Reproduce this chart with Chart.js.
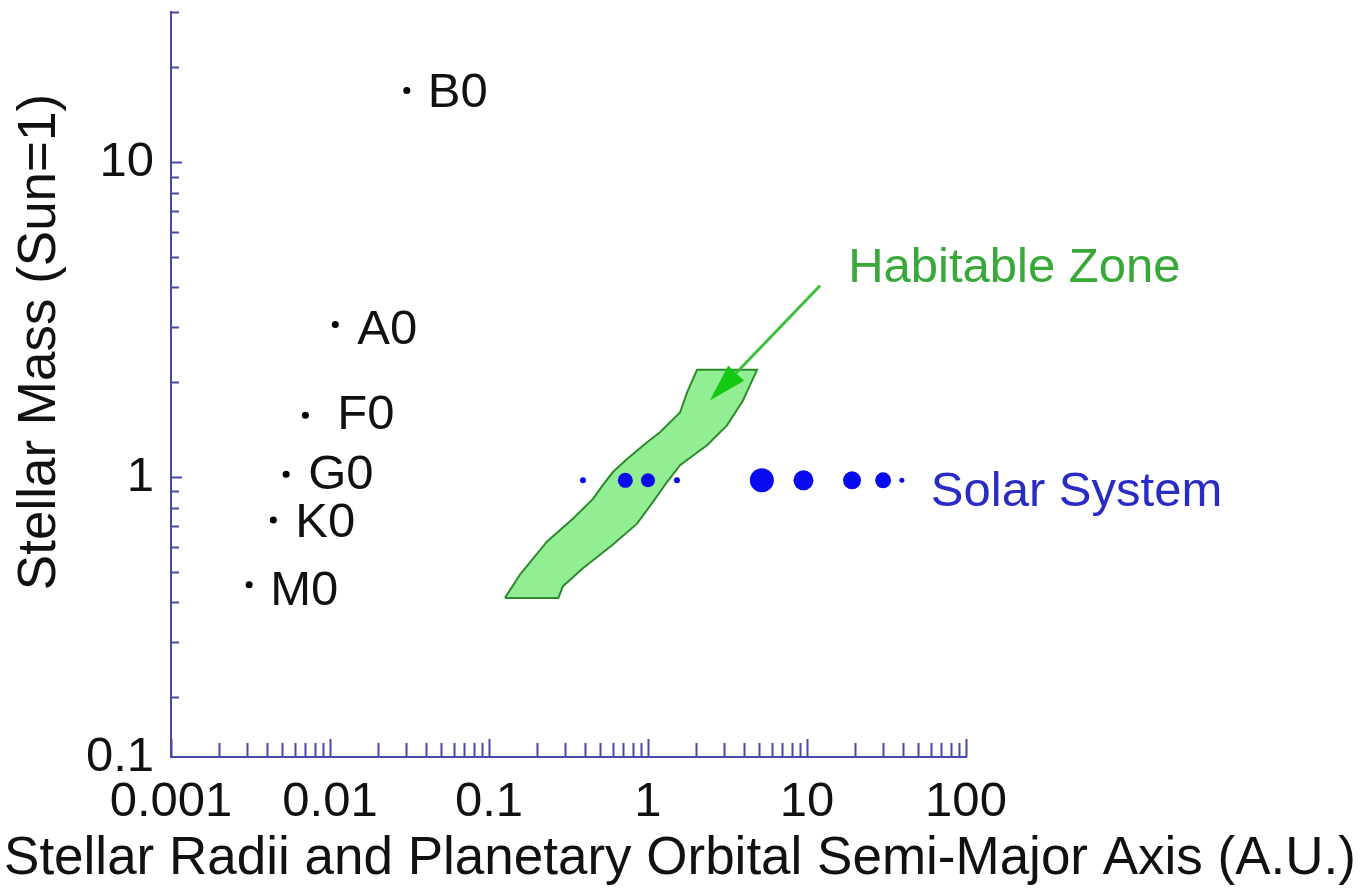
<!DOCTYPE html>
<html>
<head>
<meta charset="utf-8">
<script src="https://cdn.jsdelivr.net/npm/chart.js@4.4.1/dist/chart.umd.min.js"></script>
<style>
  html, body { margin: 0; padding: 0; background: #fff; }
  #wrap { width: 1361px; height: 895px; }
</style>
</head>
<body>
<div id="wrap"><canvas id="plot"></canvas></div>
<script>
// spectral types: stellar radius (AU) vs stellar mass (Sun=1)
const starNames = ['B0', 'A0', 'F0', 'G0', 'K0', 'M0'];
const starRadius = [0.0304, 0.0108, 0.0070, 0.0053, 0.0044, 0.0031];
const starMass = [16.9, 3.05, 1.57, 1.02, 0.73, 0.455];

// solar system: semi-major axis (AU)
const planetNames = ['Mercury', 'Venus', 'Earth', 'Mars', 'Jupiter', 'Saturn', 'Uranus', 'Neptune', 'Pluto'];
const planetAxis = [0.39, 0.72, 1.0, 1.52, 5.2, 9.5, 19.2, 30.1, 39.5];
const planetMass = [0.976, 0.976, 0.976, 0.976, 0.976, 0.976, 0.976, 0.976, 0.976];

// habitable zone outline (AU, mass)
const hzAxis = [0.126, 0.273, 0.292, 0.390, 0.602, 0.853, 1.075, 1.317, 1.590, 2.350, 3.140, 3.958, 4.85,
                2.034, 1.759, 1.590, 1.190, 0.986, 0.738, 0.602, 0.521, 0.451, 0.337, 0.232, 0.157, 0.126];
const hzMass = [0.413, 0.413, 0.450, 0.513, 0.610, 0.711, 0.834, 0.964, 1.091, 1.262, 1.459, 1.750, 2.19,
                2.19, 1.854, 1.603, 1.387, 1.289, 1.140, 1.037, 0.944, 0.852, 0.737, 0.624, 0.491, 0.413];

// arrow from the "Habitable Zone" label into the zone
const arrowAxis = [12.1, 2.45];
const arrowMass = [4.06, 1.75];

// axis ticks
const xMajor = [0.001, 0.01, 0.1, 1, 10, 100];
const xTickLabels = ['0.001', '0.01', '0.1', '1', '10', '100'];
const yMin = 0.129, yMax = 30;
const yMajor = [yMin, 1, 10];
const yTickLabels = ['0.1', '1', '10'];

// styling
const FONT = "'Liberation Sans', Arial, Helvetica, sans-serif";
const axisColor = '#4848a8';
const planetDotRadius = [3, 7.5, 7, 3, 12, 10, 9, 8, 2.5];
const starLabelShift = [[21, 3], [22, 6], [32, 0], [22, 1], [22, 3], [21, 7]];

function logTicks(lo, hi) {
  const out = [];
  for (let e = Math.floor(Math.log10(lo)); e <= Math.ceil(Math.log10(hi)); e++) {
    for (let m = 1; m <= 9; m++) {
      const v = +(m * Math.pow(10, e)).toPrecision(3);
      if (v >= lo * 0.999 && v <= hi * 1.001) out.push(v);
    }
  }
  return out;
}
const xTickValues = logTicks(0.001, 100);
const yTickValues = [yMin].concat(logTicks(0.15, yMax));

// ticks drawn pointing into the plot, like the original
const inwardTicks = {
  id: 'inwardTicks',
  afterDraw(chart) {
    const {ctx, chartArea, scales: {x, y}} = chart;
    ctx.save();
    ctx.strokeStyle = axisColor;
    ctx.lineWidth = 2;
    ctx.beginPath();
    xTickValues.forEach(v => {
      const px = Math.round(x.getPixelForValue(v)) + 0.5;
      const len = xMajor.includes(v) ? 18 : 14;
      ctx.moveTo(px, chartArea.bottom);
      ctx.lineTo(px, chartArea.bottom - len);
    });
    yTickValues.forEach(v => {
      if (v === yMin) return;
      const py = Math.round(y.getPixelForValue(v)) + 0.5;
      const len = yMajor.includes(v) ? 11 : 8;
      ctx.moveTo(chartArea.left, py);
      ctx.lineTo(chartArea.left + len, py);
    });
    ctx.stroke();
    ctx.restore();
  }
};

const annotations = {
  id: 'annotations',
  afterDraw(chart) {
    const {ctx, scales: {x, y}} = chart;
    ctx.save();

    // arrow
    const x0 = x.getPixelForValue(arrowAxis[0]), y0 = y.getPixelForValue(arrowMass[0]);
    const x1 = x.getPixelForValue(arrowAxis[1]), y1 = y.getPixelForValue(arrowMass[1]);
    const ang = Math.atan2(y1 - y0, x1 - x0);
    const headLen = 38, headW = 11;
    const bx = x1 - headLen * Math.cos(ang), by = y1 - headLen * Math.sin(ang);
    ctx.strokeStyle = '#3cc03c';
    ctx.lineWidth = 3;
    ctx.beginPath();
    ctx.moveTo(x0, y0);
    ctx.lineTo(bx, by);
    ctx.stroke();
    ctx.fillStyle = '#14c814';
    ctx.beginPath();
    ctx.moveTo(x1, y1);
    ctx.lineTo(bx + headW * Math.sin(ang), by - headW * Math.cos(ang));
    ctx.lineTo(bx - headW * Math.sin(ang), by + headW * Math.cos(ang));
    ctx.closePath();
    ctx.fill();

    ctx.textBaseline = 'middle';
    ctx.textAlign = 'left';
    ctx.font = `49px ${FONT}`;

    // spectral type labels
    ctx.fillStyle = '#111';
    starNames.forEach((name, i) => {
      const px = x.getPixelForValue(starRadius[i]);
      const py = y.getPixelForValue(starMass[i]);
      ctx.fillText(name, px + starLabelShift[i][0], py + starLabelShift[i][1]);
    });

    // series labels
    ctx.fillStyle = '#2a2ac4';
    const last = planetAxis.length - 1;
    ctx.fillText('Solar System', x.getPixelForValue(planetAxis[last]) + 29, y.getPixelForValue(planetMass[last]) + 12);
    ctx.fillStyle = '#38a838';
    ctx.fillText('Habitable Zone', x0 + 28, y0 - 17);

    // axis titles
    ctx.fillStyle = '#111';
    ctx.font = `53px ${FONT}`;
    ctx.textAlign = 'center';
    ctx.fillText('Stellar Radii and Planetary Orbital Semi-Major Axis (A.U.)', 680, 859);
    ctx.translate(40, 342);
    ctx.rotate(-Math.PI / 2);
    ctx.fillText('Stellar Mass (Sun=1)', 0, 0);
    ctx.restore();
  }
};

const hzPoints = hzAxis.map((v, i) => ({x: v, y: hzMass[i]}));
const starPoints = starRadius.map((v, i) => ({x: v, y: starMass[i]}));
const planetPoints = planetAxis.map((v, i) => ({x: v, y: planetMass[i]}));

new Chart(document.getElementById('plot'), {
  type: 'scatter',
  data: {
    datasets: [
      {
        label: 'Solar System',
        data: planetPoints,
        pointRadius: planetDotRadius,
        pointBackgroundColor: '#0a0aee',
        pointBorderWidth: 0,
        order: 0
      },
      {
        label: 'Stars',
        data: starPoints,
        pointRadius: 3.5,
        pointBackgroundColor: '#000',
        pointBorderWidth: 0,
        order: 0
      },
      {
        type: 'line',
        label: 'Habitable Zone',
        data: hzPoints,
        borderColor: '#2e8a2e',
        borderWidth: 2,
        backgroundColor: '#92ee92',
        fill: 'shape',
        pointRadius: 0,
        tension: 0,
        order: 5
      }
    ]
  },
  options: {
    responsive: true,
    maintainAspectRatio: false,
    animation: false,
    layout: {padding: {left: 0, right: 395, top: 7, bottom: 0}},
    plugins: {legend: {display: false}, tooltip: {enabled: false}},
    scales: {
      x: {
        type: 'logarithmic',
        min: 0.001,
        max: 100,
        afterFit(s) { s.height = 138; s.paddingLeft = 0; s.paddingRight = 0; },
        afterBuildTicks(s) { s.ticks = xTickValues.map(v => ({value: v})); },
        grid: {display: false},
        border: {display: true, color: axisColor, width: 2},
        ticks: {
          autoSkip: false,
          maxRotation: 0,
          padding: 8,
          color: '#111',
          font: {family: FONT, size: 49},
          callback: v => {
            const i = xMajor.indexOf(v);
            return i >= 0 ? xTickLabels[i] : null;
          }
        }
      },
      y: {
        type: 'logarithmic',
        min: yMin,
        max: yMax,
        afterFit(s) { s.width = 171; s.paddingTop = 0; s.paddingBottom = 0; },
        afterBuildTicks(s) { s.ticks = yTickValues.map(v => ({value: v})); },
        grid: {display: false},
        border: {display: true, color: axisColor, width: 2},
        ticks: {
          autoSkip: false,
          padding: 9,
          color: '#111',
          font: {family: FONT, size: 49},
          callback: v => {
            const i = yMajor.indexOf(v);
            return i >= 0 ? yTickLabels[i] : null;
          }
        }
      }
    }
  },
  plugins: [inwardTicks, annotations]
});
</script>
</body>
</html>
